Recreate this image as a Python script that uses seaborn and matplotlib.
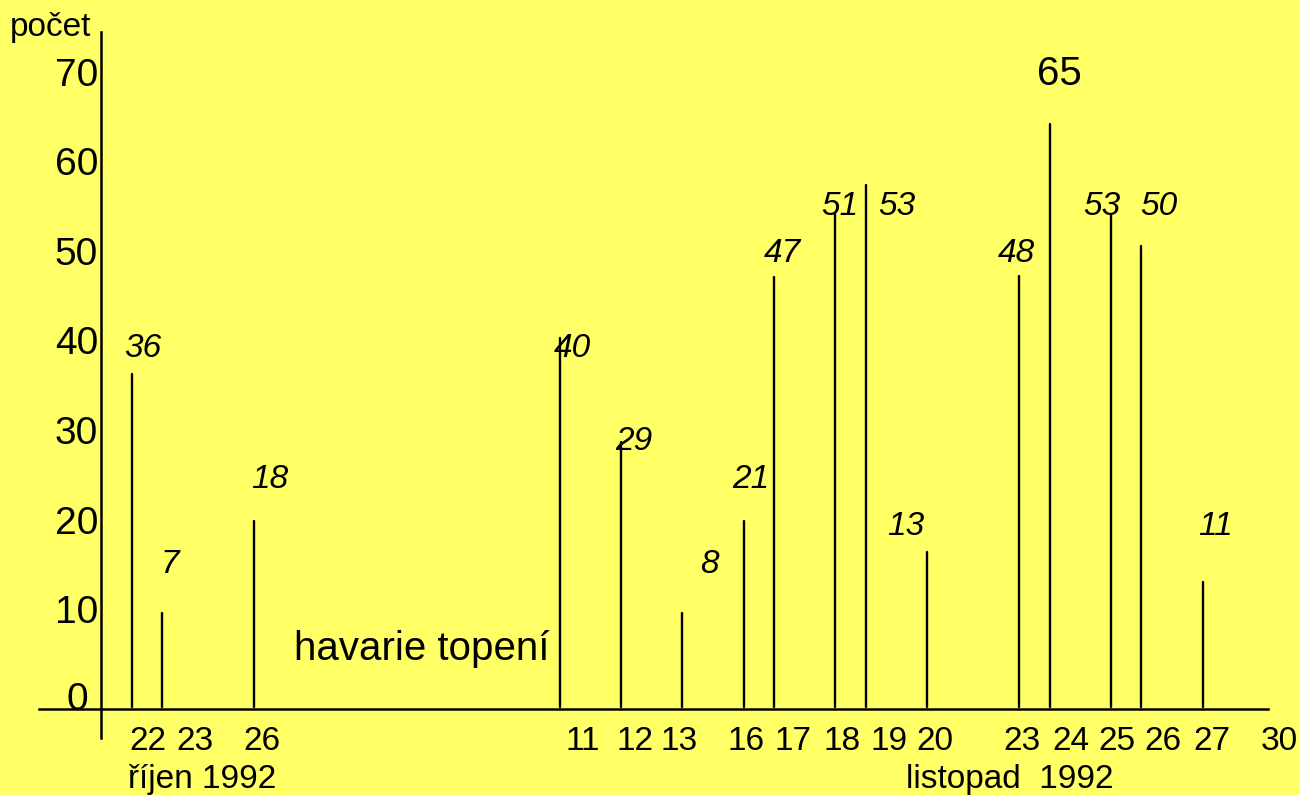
import matplotlib
matplotlib.use('Agg')
import matplotlib.pyplot as plt
import matplotlib.transforms as mtransforms
import pandas as pd
import seaborn as sns

# slot of each day on the (hand spaced) time axis
day_slots = [1, 2, 5, 15, 17, 19, 21, 22, 24, 25, 27, 30, 31, 33, 34, 36]
# counts written above the lines
counts = [36, 7, 18, 40, 29, 8, 21, 47, 51, 53, 13, 48, 65, 53, 50, 11]
# heights of the lines as they are drawn in the original
drawn_heights = [36.3, 9.6, 19.9, 40.3, 28.7, 9.6, 19.9, 47.1, 54.1, 57.3,
                 16.4, 47.2, 64.1, 54.0, 50.5, 13.1]

day_labels = ['22', '23', '26', '11', '12', '13', '16', '17', '18', '19', '20',
              '23', '24', '25', '26', '27', '30']
y_ticks = [0, 10, 20, 30, 40, 50, 60, 70]

# layout only: label positions, offset in pixels from the top of each line
day_label_slots = [1.54, 3.07, 5.26, 15.75, 17.45, 18.9, 21.08, 22.6, 24.2,
                   25.75, 27.25, 30.1, 31.7, 33.2, 34.7, 36.3, 38.5]
label_dx = [11, 8, 16, 12, 13, 27, 7, 8, 4, 31, -21, -3, 10, -9, 17, 13]
label_dy = [17, 40, 33, -19, -8, 40, 33, 15, -1, -30, 17, 14, 39, 0, 31, 47]

BG = '#FFFF66'
BASE = -1.1

sns.set_style('white')
plt.rcParams['font.family'] = ['Liberation Sans', 'DejaVu Sans']
plt.rcParams['text.color'] = 'black'

rows = []
for i, (s, h) in enumerate(zip(day_slots, drawn_heights)):
    rows.append({'id': i, 'slot': s, 'value': BASE + 0.2})
    rows.append({'id': i, 'slot': s, 'value': h})
df = pd.DataFrame(rows)

fig = plt.figure(figsize=(13, 7.95), dpi=100, facecolor=BG)
ax = fig.add_axes([0, 0, 1, 1])
ax.set_facecolor(BG)

sns.lineplot(data=df, x='slot', y='value', units='id', estimator=None,
             sort=False, color='black', linewidth=1.7, legend=False, ax=ax)

ax.set_xlim(-3.30, 39.18)
ax.set_ylim(-10.71, 77.98)

for side in ['top', 'right']:
    ax.spines[side].set_visible(False)
ax.spines['left'].set_position(('data', 0))
ax.spines['left'].set_bounds(-4.3, 74.4)
ax.spines['bottom'].set_position(('data', BASE))
ax.spines['bottom'].set_bounds(-2.03, 38.14)
for side in ['left', 'bottom']:
    ax.spines[side].set_linewidth(1.8)
    ax.spines[side].set_color('black')

ax.set_xticks(day_label_slots, day_labels)
ax.set_yticks(y_ticks, [str(v) for v in y_ticks])
ax.tick_params(axis='x', length=0, pad=12, labelsize=24, colors='black')
ax.tick_params(axis='y', length=0, pad=2, labelsize=28, colors='black')
ax.set_xlabel('')
ax.set_ylabel('')

# the "0" sits a bit further left in the original
zero_lab = ax.get_yticklabels()[0]
zero_lab.set_transform(zero_lab.get_transform() +
                       mtransforms.ScaledTranslation(-0.10, 0.03, fig.dpi_scale_trans))

for s, h, c, dx, dy in zip(day_slots, drawn_heights, counts, label_dx, label_dy):
    if c == 65:
        ax.annotate(str(c), xy=(s, h), xytext=(dx, dy), textcoords='offset pixels',
                    ha='center', va='baseline', fontsize=29, color='black')
    else:
        ax.annotate(str(c), xy=(s, h), xytext=(dx, dy), textcoords='offset pixels',
                    ha='center', va='baseline', fontsize=24, style='italic',
                    color='black')

ax.text(0.88, -9.93, 'říjen 1992', ha='left', va='baseline', fontsize=24, color='black')
ax.text(26.3, -9.93, 'listopad  1992', ha='left', va='baseline', fontsize=24, color='black')
ax.text(6.31, 4.35, 'havarie topení', ha='left', va='baseline', fontsize=29, color='black')
ax.text(-2.97, 73.96, 'počet', ha='left', va='baseline', fontsize=24, color='black')

plt.savefig('out.png', dpi=100, facecolor=BG)
